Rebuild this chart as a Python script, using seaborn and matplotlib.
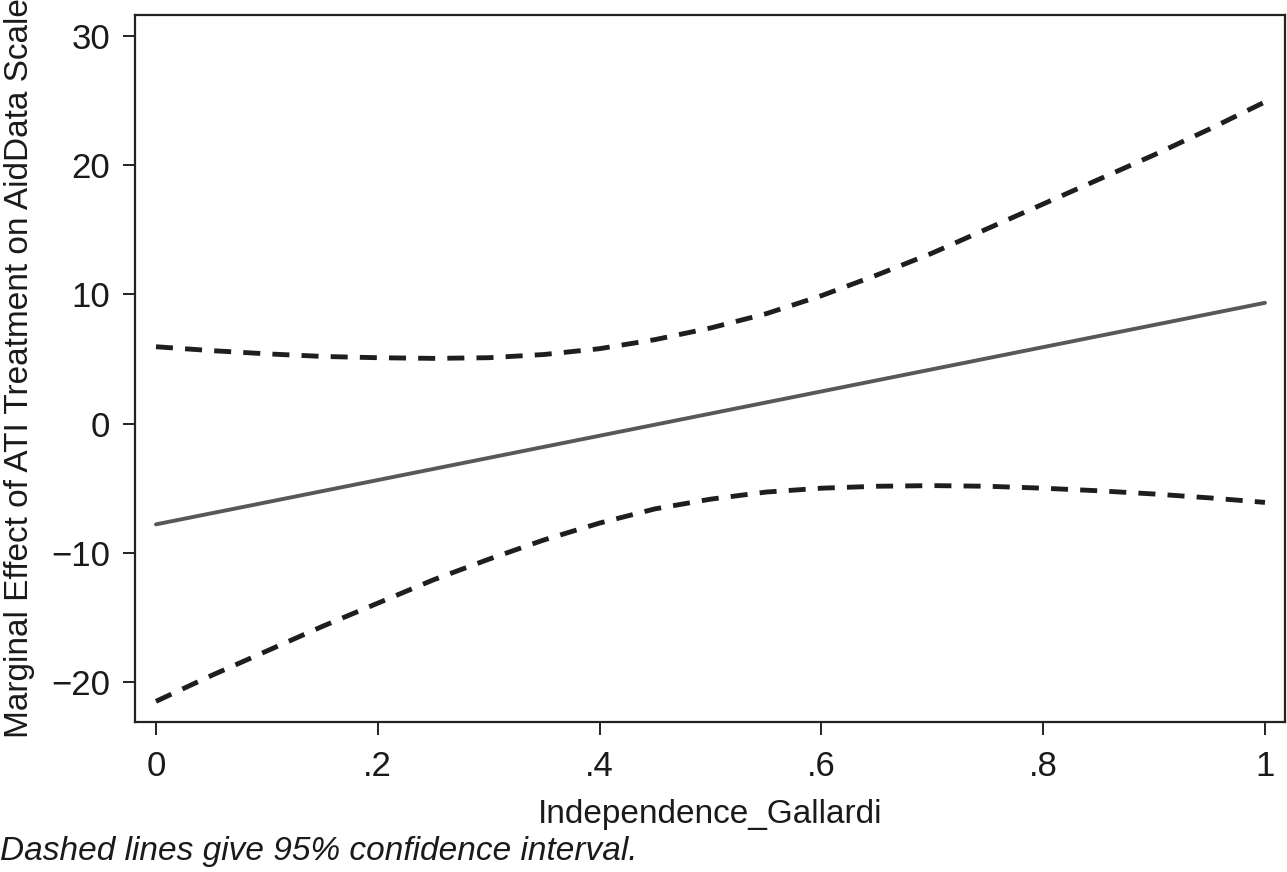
import matplotlib
matplotlib.use("Agg")
import matplotlib.pyplot as plt
import seaborn as sns
import pandas as pd

# values
independence = [0.00, 0.05, 0.10, 0.15, 0.20, 0.25, 0.30, 0.35, 0.40, 0.45, 0.50,
                0.55, 0.60, 0.65, 0.70, 0.75, 0.80, 0.85, 0.90, 0.95, 1.00]
upper_ci = [5.95, 5.65, 5.4, 5.2, 5.1, 5.05, 5.1, 5.35, 5.8, 6.5, 7.4,
            8.5, 9.9, 11.5, 13.2, 15.1, 17.0, 18.9, 20.8, 22.8, 24.9]
lower_ci = [-21.5, -19.5, -17.6, -15.7, -13.9, -12.1, -10.5, -9.0, -7.7, -6.6, -5.85,
            -5.3, -5.0, -4.85, -4.8, -4.85, -5.0, -5.2, -5.45, -5.75, -6.1]
effect_x = [0.0, 1.0]
effect_y = [-7.8, 9.35]

xticks = [0, 0.2, 0.4, 0.6, 0.8, 1.0]
xtick_labels = ["0", ".2", ".4", ".6", ".8", "1"]
yticks = [-20, -10, 0, 10, 20, 30]

sns.set_theme(style="ticks")
plt.rcParams["font.family"] = ["Liberation Sans", "DejaVu Sans"]

ci = pd.DataFrame({"x": independence, "upper": upper_ci, "lower": lower_ci})
me = pd.DataFrame({"x": effect_x, "y": effect_y})

fig = plt.figure(figsize=(12.87, 8.72), dpi=100)
ax = fig.add_axes([0.1049, 0.172, 0.8935, 0.8108])

sns.lineplot(data=me, x="x", y="y", ax=ax, color="#585858", linewidth=2.8)
dash = (0, (3.5, 2.5))
sns.lineplot(data=ci, x="x", y="upper", ax=ax, color="#1e1e1e", linewidth=3.5,
             linestyle=dash)
sns.lineplot(data=ci, x="x", y="lower", ax=ax, color="#1e1e1e", linewidth=3.5,
             linestyle=dash)

ax.set_xlim(-0.0189, 1.018)
ax.set_ylim(-23.1, 31.63)
ax.set_xticks(xticks)
ax.set_xticklabels(xtick_labels)
ax.set_yticks(yticks)

for side in ["left", "right", "top", "bottom"]:
    ax.spines[side].set_visible(True)
    ax.spines[side].set_color("#222222")
    ax.spines[side].set_linewidth(1.6)

ax.tick_params(axis="both", direction="out", length=9, width=1.4, color="#222222",
               labelsize=25, labelcolor="#1a1a1a")
ax.tick_params(axis="x", pad=11)
ax.tick_params(axis="y", pad=9)

ax.set_xlabel("Independence_Gallardi", fontsize=24, color="#1a1a1a", labelpad=12)
ax.set_ylabel("Marginal Effect of ATI Treatment on AidData Scale", fontsize=24,
              color="#1a1a1a")
ax.yaxis.set_label_coords(-0.087, 0.5)

fig.text(0.0, 0.023, "Dashed lines give 95% confidence interval.", fontsize=24,
         style="italic", color="#1a1a1a", ha="left", va="center")

fig.savefig("out.png", dpi=100, facecolor="white")
plt.close(fig)
